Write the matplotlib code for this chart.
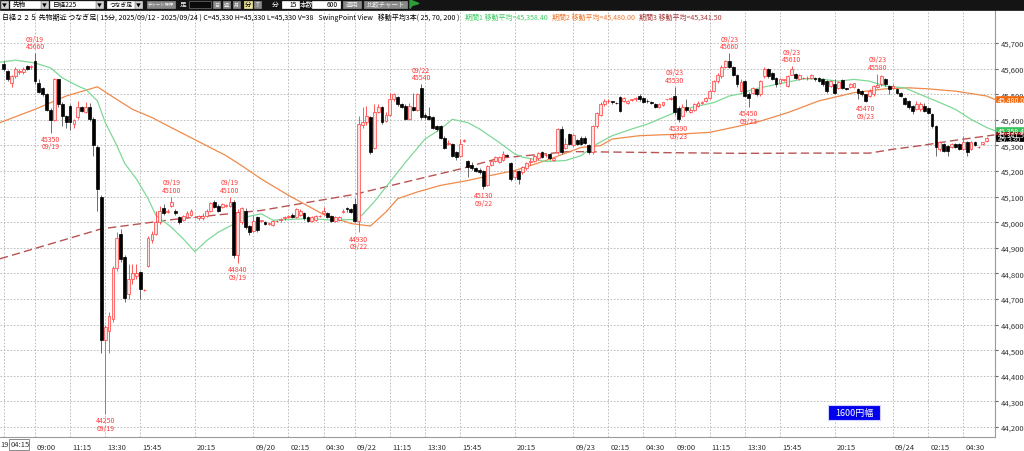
import numpy as np
import matplotlib.pyplot as plt
from matplotlib.patches import Rectangle, Polygon

plt.rcParams['font.family'] = ['Liberation Sans Narrow', 'Noto Sans CJK JP', 'DejaVu Sans']

W, H = 1024, 452

# 15-minute candles, index 0 = 09/19 09:00, first candle is index -8
first_idx = -8
opens = [45620, 45590, 45545, 45570, 45585, 45585, 45610, 45605, 45630, 45545,
         45525, 45500, 45440, 45400, 45560, 45460, 45415, 45455, 45385, 45410,
         45450, 45430, 45450, 45405, 45295, 45100, 44540, 44575, 44620, 44820,
         44955, 44865, 44720, 44780, 44790, 44805, 44735, 44830, 44930, 44955,
         45000, 45055, 45040, 45065, 45045, 45020, 45010, 45020, 45030, 45020,
         45015, 45015, 45025, 45045, 45080, 45065, 45060, 45065, 45065, 45080,
         44870, 45000, 45045, 44985, 44965, 45020, 45005, 45000, 44995, 44990,
         45005, 45010, 45015, 45020, 45030, 45020, 45030, 45035, 45020, 45005,
         45010, 45025, 45035, 45035, 45025, 45005, 45010, 45040, 45055, 45050,
         45070, 45005, 45380, 45390, 45410, 45290, 45430, 45450, 45395, 45420,
         45480, 45490, 45460, 45455, 45405, 45450, 45440, 45525, 45420, 45415,
         45410, 45375, 45375, 45330, 45305, 45305, 45275, 45260, 45318, 45240,
         45225, 45210, 45205, 45200, 45145, 45225, 45240, 45235, 45245, 45262,
         45230, 45175, 45200, 45195, 45210, 45235, 45240, 45250, 45275, 45262,
         45265, 45245, 45275, 45365, 45290, 45345, 45300, 45320, 45330, 45330,
         45300, 45275, 45375, 45420, 45460, 45474, 45472, 45466, 45490, 45475,
         45465, 45478, 45480, 45495, 45485, 45475, 45470, 45460, 45450, 45458,
         45480, 45480, 45495, 45445, 45415, 45450, 45432, 45440, 45455, 45467,
         45475, 45485, 45512, 45550, 45572, 45608, 45628, 45608, 45577, 45512,
         45550, 45500, 45505, 45520, 45500, 45570, 45600, 45583, 45565, 45545,
         45555, 45532, 45577, 45580, 45560, 45564, 45564, 45564, 45564, 45564,
         45558, 45551, 45532, 45538, 45525, 45555, 45523, 45529, 45529, 45521,
         45512, 45499, 45493, 45499, 45530, 45538, 45560, 45532, 45525, 45521,
         45506, 45486, 45474, 45454, 45441, 45441, 45454, 45448, 45422, 45376,
         45286, 45305, 45299, 45292, 45305, 45305, 45286, 45312, 45286, 45312,
         45292, 45305, 45318]
highs = [45630, 45595, 45575, 45605, 45600, 45605, 45615, 45615, 45660, 45560,
         45530, 45505, 45445, 45565, 45560, 45470, 45420, 45460, 45405, 45475,
         45455, 45470, 45465, 45410, 45300, 45105, 44600, 44650, 44830, 44960,
         44975, 44870, 44835, 44835, 44835, 44810, 44740, 44945, 44965, 45045,
         45065, 45070, 45050, 45100, 45050, 45025, 45030, 45045, 45050, 45025,
         45030, 45035, 45050, 45080, 45085, 45070, 45075, 45070, 45100, 45085,
         45050, 45060, 45055, 44990, 45030, 45025, 45010, 45005, 45000, 45010,
         45010, 45015, 45025, 45030, 45035, 45055, 45050, 45040, 45025, 45025,
         45030, 45030, 45060, 45040, 45030, 45025, 45025, 45050, 45060, 45055,
         45095, 45415, 45450, 45455, 45415, 45460, 45460, 45455, 45430, 45505,
         45505, 45495, 45465, 45460, 45465, 45505, 45505, 45540, 45425, 45450,
         45415, 45380, 45380, 45335, 45320, 45310, 45280, 45325, 45325, 45245,
         45235, 45215, 45210, 45205, 45225, 45245, 45260, 45260, 45280, 45265,
         45235, 45205, 45205, 45220, 45235, 45250, 45265, 45275, 45280, 45270,
         45270, 45255, 45370, 45375, 45330, 45350, 45345, 45325, 45335, 45335,
         45305, 45380, 45430, 45470, 45480, 45482, 45475, 45468, 45495, 45490,
         45478, 45482, 45490, 45500, 45490, 45480, 45475, 45465, 45465, 45470,
         45483, 45490, 45530, 45455, 45460, 45480, 45445, 45465, 45472, 45472,
         45490, 45515, 45555, 45582, 45615, 45635, 45660, 45612, 45580, 45560,
         45556, 45510, 45530, 45522, 45555, 45605, 45603, 45586, 45568, 45562,
         45560, 45575, 45610, 45583, 45580, 45567, 45572, 45580, 45568, 45568,
         45562, 45555, 45556, 45558, 45551, 45560, 45525, 45544, 45545, 45525,
         45516, 45502, 45520, 45536, 45580, 45575, 45564, 45535, 45540, 45525,
         45510, 45490, 45477, 45458, 45474, 45470, 45467, 45452, 45426, 45380,
         45316, 45309, 45302, 45308, 45308, 45308, 45338, 45316, 45316, 45316,
         45296, 45315, 45333]
lows = [45590, 45550, 45530, 45565, 45580, 45580, 45595, 45600, 45540, 45505,
        45495, 45435, 45350, 45395, 45450, 45375, 45370, 45360, 45370, 45405,
        45430, 45425, 45395, 45260, 45045, 44490, 44250, 44490, 44610, 44810,
        44845, 44690, 44700, 44760, 44780, 44700, 44730, 44825, 44920, 44950,
        44995, 45030, 45035, 45060, 45030, 44995, 45005, 45015, 45025, 45015,
        45010, 45010, 45020, 45040, 45055, 45040, 45055, 45060, 45060, 44860,
        44840, 44995, 44975, 44950, 44960, 44960, 45000, 44990, 44990, 44985,
        45000, 45000, 45010, 45015, 45015, 45015, 45025, 45010, 45000, 45000,
        45005, 45020, 45030, 45015, 45000, 45000, 45005, 45035, 45040, 45035,
        45000, 44960, 45370, 45380, 45265, 45285, 45425, 45385, 45390, 45415,
        45475, 45455, 45445, 45400, 45400, 45435, 45435, 45405, 45405, 45400,
        45365, 45355, 45325, 45285, 45300, 45255, 45245, 45255, 45315, 45175,
        45205, 45195, 45190, 45130, 45140, 45220, 45235, 45230, 45240, 45258,
        45160, 45170, 45150, 45190, 45205, 45225, 45235, 45245, 45250, 45255,
        45245, 45240, 45265, 45265, 45285, 45300, 45295, 45300, 45300, 45305,
        45265, 45265, 45370, 45415, 45455, 45466, 45460, 45462, 45430, 45470,
        45460, 45475, 45475, 45475, 45465, 45465, 45460, 45445, 45448, 45455,
        45477, 45477, 45420, 45390, 45410, 45430, 45428, 45435, 45450, 45462,
        45470, 45480, 45508, 45545, 45565, 45604, 45604, 45570, 45530, 45508,
        45488, 45450, 45500, 45495, 45495, 45565, 45565, 45555, 45530, 45540,
        45550, 45528, 45574, 45560, 45556, 45560, 45556, 45560, 45552, 45546,
        45532, 45505, 45528, 45500, 45520, 45520, 45515, 45526, 45526, 45480,
        45495, 45470, 45490, 45495, 45525, 45534, 45533, 45500, 45520, 45502,
        45488, 45456, 45441, 45422, 45438, 45436, 45430, 45424, 45370, 45260,
        45280, 45274, 45260, 45288, 45288, 45282, 45282, 45260, 45282, 45298,
        45290, 45302, 45315]
closes = [45600, 45560, 45570, 45600, 45590, 45600, 45600, 45610, 45550, 45510,
          45500, 45440, 45400, 45560, 45460, 45415, 45390, 45390, 45400, 45450,
          45435, 45450, 45405, 45300, 45130, 44540, 44590, 44635, 44820, 44940,
          44855, 44705, 44780, 44800, 44800, 44740, 44735, 44940, 44955, 45000,
          45045, 45035, 45045, 45080, 45035, 45000, 45025, 45035, 45045, 45020,
          45025, 45025, 45045, 45075, 45060, 45045, 45070, 45065, 45080, 44870,
          45040, 45055, 44980, 44960, 45005, 44970, 45010, 44995, 44995, 45005,
          45005, 45010, 45020, 45025, 45020, 45050, 45045, 45015, 45005, 45020,
          45025, 45025, 45045, 45020, 45005, 45020, 45020, 45045, 45050, 45040,
          45005, 45385, 45390, 45415, 45275, 45430, 45450, 45390, 45420, 45480,
          45500, 45460, 45450, 45405, 45455, 45440, 45500, 45410, 45410, 45405,
          45370, 45365, 45330, 45290, 45310, 45260, 45255, 45305, 45322, 45215,
          45210, 45200, 45195, 45140, 45220, 45240, 45255, 45255, 45265, 45260,
          45170, 45200, 45170, 45215, 45230, 45240, 45260, 45270, 45255, 45262,
          45250, 45250, 45365, 45275, 45305, 45305, 45340, 45305, 45305, 45310,
          45275, 45375, 45425, 45460, 45475, 45475, 45470, 45465, 45435, 45485,
          45475, 45480, 45485, 45480, 45470, 45472, 45465, 45450, 45460, 45468,
          45480, 45487, 45430, 45405, 45450, 45440, 45440, 45460, 45467, 45468,
          45485, 45512, 45550, 45577, 45608, 45628, 45608, 45577, 45538, 45547,
          45493, 45485, 45525, 45500, 45550, 45600, 45570, 45560, 45538, 45558,
          45558, 45571, 45599, 45564, 45577, 45564, 45565, 45577, 45558, 45551,
          45538, 45512, 45551, 45506, 45547, 45525, 45519, 45540, 45542, 45506,
          45499, 45474, 45512, 45532, 45535, 45571, 45538, 45519, 45534, 45506,
          45493, 45461, 45452, 45435, 45461, 45461, 45435, 45428, 45376, 45292,
          45312, 45280, 45280, 45305, 45292, 45286, 45312, 45273, 45312, 45302,
          45294, 45312, 45330]

# moving averages (candle index, price)
ma25_x = [-9, -5, 0, 4, 7, 11, 13, 16, 18, 21, 23, 26, 29, 31, 35, 38, 41, 44, 47, 51,
          54, 58, 61, 70, 77, 80, 82, 84, 87, 91, 95, 100, 104, 107, 111, 114, 119, 123,
          125, 131, 136, 140, 144, 148, 153, 157, 161, 165, 170, 174, 178, 181, 184, 190,
          197, 201, 206, 210, 214, 218, 223, 227, 231, 236, 240, 244, 246]
ma25_y = [45625, 45633, 45622, 45603, 45564, 45532, 45519, 45474, 45390, 45299, 45230,
          45169, 45092, 45027, 44980, 44935, 44885, 44928, 44961, 44993, 45020, 45033,
          45008, 45014, 45008, 45010, 45010, 45030, 45080, 45157, 45234, 45325, 45364,
          45402, 45389, 45364, 45312, 45267, 45254, 45237, 45241, 45260, 45305, 45338,
          45364, 45383, 45409, 45435, 45454, 45467, 45493, 45502, 45519, 45538, 45560,
          45560, 45551, 45558, 45551, 45532, 45525, 45499, 45474, 45441, 45402, 45370, 45358]
ma70_x = [-9, 0, 8, 16, 19, 25, 30, 34, 39, 44, 49, 53, 58, 65, 74, 81, 86, 90, 93, 98,
          104, 111, 116, 123, 131, 140, 145, 148, 155, 165, 173, 181, 186, 193, 201, 210,
          218, 224, 229, 236, 244, 246]
ma70_y = [45389, 45441, 45493, 45529, 45499, 45441, 45409, 45377, 45338, 45299, 45260,
          45221, 45169, 45105, 45030, 44995, 44985, 45040, 45092, 45118, 45144, 45163,
          45180, 45202, 45241, 45292, 45299, 45325, 45338, 45344, 45351, 45377, 45395,
          45428, 45474, 45506, 45521, 45525, 45521, 45512, 45493, 45480]
ma200_x = [-9, 17, 35, 58, 82, 95, 109, 119, 137, 160, 181, 200, 214, 220, 227, 235, 246]
ma200_y = [44857, 44974, 45010, 45046, 45109, 45157, 45208, 45250, 45276, 45272, 45269,
           45270, 45270, 45285, 45299, 45318, 45341]

# swing point labels
swing_idx = [0, 4, 18, 35, 50, 52, 83, 99, 115, 164, 165, 178, 183, 194, 213, 216]
swing_kind = ['H', 'L', 'L', 'H', 'H', 'L', 'L', 'H', 'L', 'H', 'L', 'H', 'L', 'H', 'L', 'H']
swing_price = ['45660', '45350', '44250', '45100', '45100', '44840', '44930', '45540',
               '45130', '45530', '45390', '45660', '45450', '45610', '45470', '45580']
swing_date = ['09/19', '09/19', '09/19', '09/19', '09/19', '09/19', '09/22', '09/22',
              '09/22', '09/23', '09/23', '09/23', '09/23', '09/23', '09/23', '09/23']

tick_idx = [-8, 0, 9, 18, 27, 41, 56, 65, 74, 82, 91, 100, 109, 123, 138, 147, 156,
            164, 173, 182, 191, 205, 220, 229, 238]
tick_lab = ['', '09:00', '11:15', '13:30', '15:45', '20:15', '09/20', '02:15', '04:30',
            '09/22', '11:15', '13:30', '15:45', '20:15', '09/23', '02:15', '04:30',
            '09:00', '11:15', '13:30', '15:45', '20:15', '09/24', '02:15', '04:30']
price_ticks = np.arange(44200, 45701, 100)

# current values shown on the right axis
ma_last = [45358.4, 45341.5, 45480.0]
last_close = 45330

RED = '#ff3b3b'


def fx(x):
    return x / W


def fy(y):
    return 1 - y / H


def box(x0, y0, x1, y1, fc, ec=None, lw=0.5):
    fig.add_artist(Rectangle((fx(x0), fy(y1)), (x1 - x0) / W, (y1 - y0) / H,
                             transform=fig.transFigure, facecolor=fc,
                             edgecolor=ec or fc, lw=lw))


def text_width(t):
    return t.get_window_extent(renderer=fig.canvas.get_renderer()).width


def label(x, y, s, size=5, color='black', ha='left', width=None, **kw):
    t = fig.text(fx(x), fy(y), s, fontsize=size, color=color, ha=ha, va='center', **kw)
    if width:
        w = text_width(t)
        if w > width:
            t.set_fontsize(size * width / w)
    return t


fig = plt.figure(figsize=(W / 100, H / 100), dpi=100)
ax = fig.add_axes([0, fy(438), fx(995), (438 - 11) / H])
ax.set_xlim(-8.97, 246.15)
ax.set_ylim(44161, 45829)

for p in price_ticks:
    ax.axhline(p, color='#b4b4b4', lw=0.6, ls=(0, (2, 2)), zorder=0)
for t in tick_idx:
    ax.axvline(t, color='#b4b4b4', lw=0.6, ls=(0, (2, 2)), zorder=0)

ax.plot(ma200_x, ma200_y, color='#b85454', lw=1.0, ls=(0, (6, 3)), zorder=1)
ax.plot(ma70_x, ma70_y, color='#f08a4b', lw=0.9, zorder=1)
ax.plot(ma25_x, ma25_y, color='#80d897', lw=0.9, zorder=1)

idx = np.arange(first_idx, first_idx + len(opens))
o, h, l, c = map(np.array, (opens, highs, lows, closes))
up = c >= o
ax.vlines(idx[up], l[up], h[up], color=RED, lw=0.6, zorder=2)
ax.vlines(idx[~up], l[~up], h[~up], color='#555555', lw=0.6, zorder=2)
ax.bar(idx[up], np.maximum(c - o, 1)[up], bottom=o[up], width=0.72,
       facecolor='#ffe2e2', edgecolor=RED, lw=0.5, zorder=3)
ax.bar(idx[~up], (o - c)[~up], bottom=c[~up], width=0.72,
       facecolor='black', edgecolor='black', lw=0.5, zorder=3)

for i, k, pr, d in zip(swing_idx, swing_kind, swing_price, swing_date):
    j = i - first_idx
    if k == 'H':
        ax.annotate(d + '\n' + pr, (i, highs[j]), xytext=(0, 2), textcoords='offset points',
                    ha='center', va='bottom', fontsize=5, color=RED, linespacing=0.95)
    else:
        ax.annotate(pr + '\n' + d, (i, lows[j]), xytext=(0, -1.5), textcoords='offset points',
                    ha='center', va='top', fontsize=5, color=RED, linespacing=0.95)

for s in ['left', 'top']:
    ax.spines[s].set_visible(False)
for s in ['right', 'bottom']:
    ax.spines[s].set_color('#9a9a9a')
    ax.spines[s].set_linewidth(0.8)
ax.set_xticks([])
ax.yaxis.tick_right()
ax.set_yticks(price_ticks)
ax.set_yticklabels([f'{p:,.1f}' for p in price_ticks], fontsize=5.5, color='#333333')
ax.tick_params(axis='y', length=2, pad=2, colors='#666666', labelcolor='#333333')

for t, lab in zip(tick_idx, tick_lab):
    ax.annotate(lab, (t, 0), xycoords=('data', 'axes fraction'), xytext=(1.5, -4),
                textcoords='offset points', ha='left', va='top', fontsize=5.5, color='#333333')
label(0, 445.5, '19', size=5.5, color='#333333')
box(9, 440, 29, 451, 'white', ec='#777777', lw=0.6)
label(11, 445.5, '04:15', size=5.5, color='#333333')

# value boxes on the right axis
for pr, col in [(ma_last[2], '#f26a10'), (ma_last[0], '#3cc35c'), (ma_last[1], '#8a1010')]:
    y = 44 + (45700 - pr) * 0.256
    box(996, y - 3, 1024, y + 3, col)
    label(998, y, f'{pr:,.1f}', size=5, color='white')
y = 44 + (45700 - last_close) * 0.256
box(996, y - 2.5, 1024, y + 3.5, 'black')
label(998, y + 0.5, f'{last_close:,}', size=5.5, color='white')

# range box
box(828, 406, 880, 421, '#0000ee', ec='#d0d0ff', lw=0.8)
label(854, 413.5, '1600円幅', size=6.5, color='white', ha='center')

# title line
title_black = ('日経２２５ 先物期近 つなぎ足( 15分, 2025/09/12 - 2025/09/24 ) C=45,330 H=45,330 '
               'L=45,330 V=38   SwingPoint View   移動平均3本( 25, 70, 200 )')
ts = label(2, 18, title_black, size=6, width=456).get_fontsize()
xpos = 465
for s, col in [('期間1 移動平均=45,358.40', '#44cc66'), ('期間2 移動平均=45,480.00', '#f07a30'),
               ('期間3 移動平均=45,341.50', '#a83a3a')]:
    xpos += text_width(label(xpos, 18, s, size=ts, color=col)) + 4

# toolbar
box(0, 0, 1024, 10.5, '#141414')
for x0, x1, txt in [(10, 40, '先物'), (50, 95, '日経225'), (107, 134, 'つなぎ足')]:
    box(x0, 1.5, x1, 9, 'white')
    label(x0 + 3, 5.2, txt, size=4.8, width=x1 - x0 - 4)
for x0 in [1, 41, 96, 135]:
    box(x0, 1.5, x0 + 7, 9, '#cfcfcf')
    label(x0 + 3.5, 5.2, '▼', size=3.5, ha='center')
for x0, x1, txt in [(147, 175, 'チャート保存'), (213, 220, '日'), (223, 230, '週'),
                    (233, 240, '月'), (254, 261, 'T'), (343, 361, '適用'), (364, 407, '比較チャート')]:
    box(x0, 1.5, x1, 9, '#8a8a8a')
    label((x0 + x1) / 2, 5.2, txt, size=4.6, color='#eeeeee', ha='center', width=x1 - x0 - 2)
box(244, 1.5, 252, 9, '#efe39a')
label(248, 5.2, '分', size=4.6, ha='center')
label(180, 5.2, '足', size=4.8, color='white')
box(189, 1.5, 211, 9, '#0a0a0a', ec='#707070')
label(272, 5.2, '分', size=4.8, color='white')
box(282, 1.5, 299, 9, 'white')
label(297, 5.2, '15', size=4.8, ha='right')
label(300, 5.2, '本数', size=4.8, color='white')
box(312, 1.5, 340, 9, 'white')
label(338, 5.2, '600', size=4.8, ha='right')
fig.add_artist(Polygon([(fx(410), fy(9.5)), (fx(410), fy(1)), (fx(419), fy(4.5)), (fx(412), fy(6.5))],
                       closed=True, transform=fig.transFigure, color='#2e9c3a'))

fig.savefig('out.png', dpi=100, facecolor='white')
